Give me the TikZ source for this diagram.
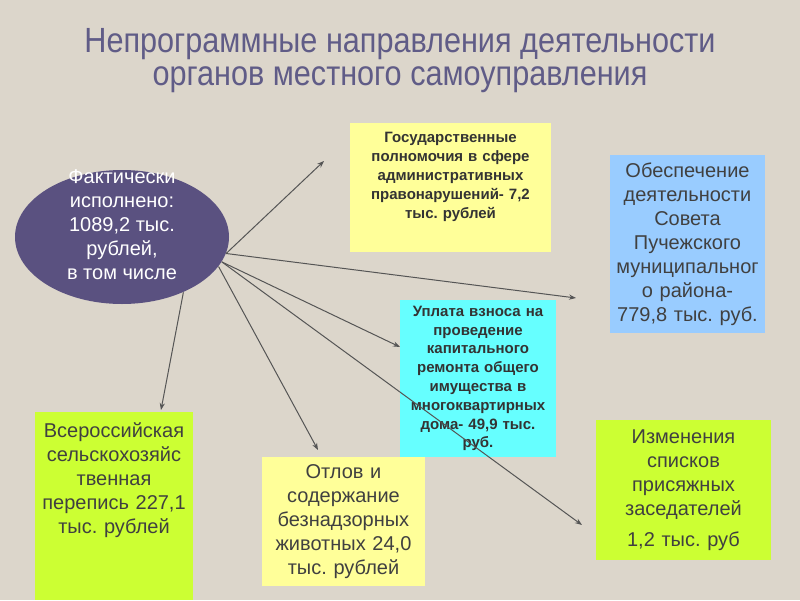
\documentclass[tikz,border=0pt]{standalone}
\usepackage{fontspec}
\setmainfont{Liberation Sans}
\newfontfamily\titlefont[FakeStretch=0.875]{Liberation Sans}
\usetikzlibrary{shapes.geometric,arrows.meta}
\definecolor{bgpaper}{RGB}{220,214,203}
\definecolor{titleblue}{RGB}{96,92,135}
\definecolor{ovalpurple}{RGB}{90,81,128}
\definecolor{paleyellow}{RGB}{255,255,153}
\definecolor{lightblue}{RGB}{153,204,255}
\definecolor{aqua}{RGB}{102,255,255}
\definecolor{lime}{RGB}{204,255,51}
\definecolor{boxtext}{RGB}{64,64,64}
\definecolor{boldtext}{RGB}{51,51,51}
\definecolor{linegray}{RGB}{85,85,85}
\frenchspacing

\begin{document}
\begin{tikzpicture}[x=0.5pt, y=-0.5pt,
	every node/.style={font=\fontsize{10}{12}\selectfont, text=boxtext},
	box/.style={rectangle, inner xsep=0pt, inner ysep=0pt, align=center},
	boldbox/.style={box, font=\fontsize{7.5}{9.5}\selectfont\bfseries, text=boldtext},
	conn/.style={draw=linegray, line width=0.5pt, -{Stealth[length=3.5pt,width=2.6pt]}}]
	\fill[bgpaper] (0,0) rectangle (800,600);
	\node[text=titleblue, font=\titlefont\fontsize{17.5}{16.5}\selectfont, align=center] (title) at (400,61) {Непрограммные направления деятельности\\органов местного самоуправления};

	% central oval
	\node[ellipse, fill=ovalpurple, minimum width=107pt, minimum height=67pt, inner sep=0pt] (fact) at (122,237) {};
	\node[text=white, align=center] (facttxt) at (122,225) {Фактически\\исполнено:\\1089,2 тыс.\\рублей,\\в том числе};

	% expense boxes
	\node[boldbox, fill=paleyellow, anchor=north, text width=100.5pt, text height=6pt, text depth=51.5pt, inner ysep=3.5pt] (adm) at (450.5,123) {Государственные\\полномочия в сфере\\административных\\правонарушений- 7,2\\тыс. рублей};
	\node[box, fill=lightblue, text width=77.5pt, minimum height=89pt] (council) at (687.5,244) {Обеспечение\\деятельности\\Совета\\Пучежского\\муниципальног\\о района-\\779,8 тыс. руб.};
	\node[boldbox, fill=aqua, text width=78pt, minimum height=78.5pt, font=\fontsize{7.5}{9.4}\selectfont\bfseries] (repair) at (478,378.5) {Уплата взноса на\\проведение\\капитального\\ремонта общего\\имущества в\\многоквартирных\\дома- 49,9 тыс.\\руб.};
	\node[box, fill=lime, anchor=north, text width=79pt, text height=7.5pt, text depth=76.1pt, inner ysep=5.2pt] (census) at (114,412) {Всероссийская\\сельскохозяйс\\твенная\\перепись 227,1\\тыс. рублей};
	\node[box, fill=paleyellow, text width=81.5pt, minimum height=64.5pt] (animals) at (343.5,521.5) {Отлов и\\содержание\\безнадзорных\\животных 24,0\\тыс. рублей};
	\node[box, fill=lime, text width=87.5pt, minimum height=70pt] (jury) at (683.5,490) {Изменения\\списков\\присяжных\\заседателей\\[3.5pt]1,2 тыс. руб};

	% arrow ends
	\coordinate (e1) at (324,161);
	\coordinate (e2) at (576,298);
	\coordinate (e3) at (400,347);
	\coordinate (e4) at (582,525);
	\coordinate (e5) at (318,450);
	\coordinate (e6) at (161,410);
	\foreach \a/\t in {-9.6/e1, -9.6/e2, -14.3/e3, -14.3/e4, -17.2/e5, -42.6/e6}
		\draw[conn] (fact.\a) -- (\t);
\end{tikzpicture}
\end{document}
